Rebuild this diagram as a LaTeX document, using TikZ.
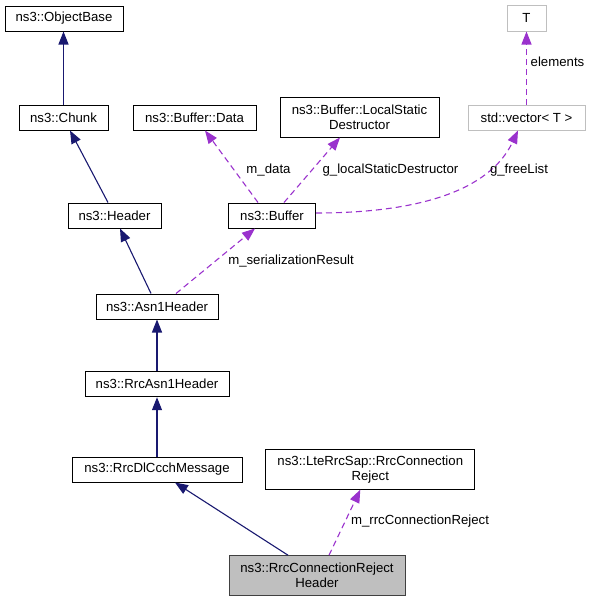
\documentclass[tikz,border=0pt]{standalone}
\usepackage{fontspec}
\setmainfont{Liberation Sans}
\usetikzlibrary{arrows.meta}
\definecolor{inhblue}{HTML}{191970}
\definecolor{usepurple}{HTML}{9A32CD}
\definecolor{lgray}{HTML}{BFBFBF}
\definecolor{dgray}{HTML}{404040}
\begin{document}
\begin{tikzpicture}[x=1pt,y=-1pt,
  every node/.style={font=\fontsize{13.2}{15}\selectfont, inner sep=0pt, align=center},
  cls/.style={draw=black, line width=1pt, fill=white},
  ext/.style={draw=lgray, line width=1pt, fill=white},
  me/.style={draw=dgray, line width=1pt, fill=lgray},
  inh/.style={draw=inhblue, line width=1.1pt, -{Triangle[length=13pt,width=10pt]}},
  use/.style={draw=usepurple, line width=1.1pt, dash pattern=on 6pt off 4pt, -{Triangle[length=13pt,width=10pt]}},
  lbl/.style={text=black}]
\useasboundingbox (0,0) rectangle (591,603);
% nodes
\node[cls, minimum width=118pt, minimum height=25pt] (ob) at (64,18.5) {ns3::ObjectBase};
\node[cls, minimum width=89pt, minimum height=25pt] (chunk) at (63.5,117.5) {ns3::Chunk};
\node[cls, minimum width=123pt, minimum height=25pt] (data) at (194.5,117.5) {ns3::Buffer::Data};
\node[cls, minimum width=159pt, minimum height=40pt] (lsd) at (359.5,117) {ns3::Buffer::LocalStatic\\Destructor};
\node[ext, minimum width=39pt, minimum height=26pt] (T) at (526.5,18) {T};
\node[ext, minimum width=117pt, minimum height=25pt] (vec) at (526.5,117.5) {std::vector\textless{} T \textgreater};
\node[cls, minimum width=93pt, minimum height=25pt] (header) at (114.5,215.5) {ns3::Header};
\node[cls, minimum width=87pt, minimum height=25pt] (buffer) at (272,215.5) {ns3::Buffer};
\node[cls, minimum width=122pt, minimum height=25pt] (asn) at (157,306.5) {ns3::Asn1Header};
\node[cls, minimum width=144pt, minimum height=25pt] (rrcasn) at (157,384.2) {ns3::RrcAsn1Header};
\node[cls, minimum width=170pt, minimum height=25pt] (dl) at (157,469.5) {ns3::RrcDlCcchMessage};
\node[cls, minimum width=208.7pt, minimum height=40pt] (lte) at (370.3,469.2) {ns3::LteRrcSap::RrcConnection\\Reject};
\node[me, minimum width=176pt, minimum height=40pt] (rcrh) at (317,575.7) {ns3::RrcConnectionReject\\Header};
% inheritance
\draw[inh] (chunk.north) -- (chunk.north |- ob.south);
\draw[inh] ([xshift=-6.5pt]header.north) -- ([xshift=6.5pt]chunk.south);
\draw[inh] ([xshift=-6pt]asn.north) -- ([xshift=5.5pt]header.south);
\draw[inh] (rrcasn.north) -- (asn.south);
\draw[inh] (dl.north) -- (rrcasn.south);
\draw[inh] ([xshift=-29pt]rcrh.north) -- ([xshift=18pt]dl.south);
% usage
\draw[use] ([xshift=19pt]asn.north) -- ([xshift=-17pt]buffer.south);
\draw[use] ([xshift=-14pt]buffer.north) -- ([xshift=10.5pt]data.south);
\draw[use] ([xshift=12pt]buffer.north) -- ([xshift=-19.5pt]lsd.south);
\draw[use] ([yshift=2.5pt]buffer.east) .. controls (420,213) and (490,190) .. ([xshift=-8.5pt]vec.south);
\draw[use] (vec.north) -- (T.south);
\draw[use] ([xshift=12pt]rcrh.north) -- ([xshift=-10pt]lte.south);
% labels
\node[lbl] (l1) at (268.5,170) {m\_data};
\node[lbl] (l2) at (390.5,170) {g\_localStaticDestructor};
\node[lbl] (l3) at (519,170) {g\_freeList};
\node[lbl] (l4) at (557.5,62) {elements};
\node[lbl] (l5) at (291,261) {m\_serializationResult};
\node[lbl] (l6) at (420,521) {m\_rrcConnectionReject};
\end{tikzpicture}
\end{document}
